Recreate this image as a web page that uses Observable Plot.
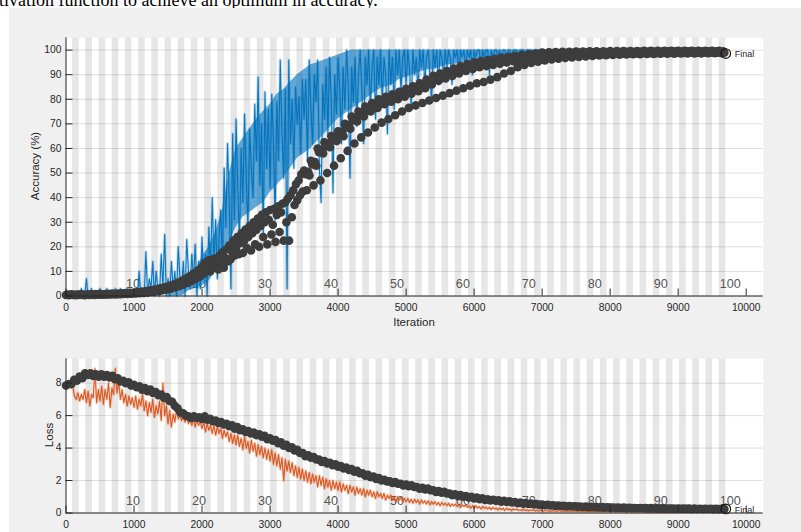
<!DOCTYPE html>
<html><head><meta charset="utf-8">
<script src="https://cdn.jsdelivr.net/npm/d3@7"></script>
<script src="https://cdn.jsdelivr.net/npm/@observablehq/plot@0.6"></script>
<style>
html,body{margin:0;padding:0;background:#fff;}
#fig{position:relative;width:801px;height:532px;overflow:hidden;font-family:"Liberation Sans",Arial,Helvetica,sans-serif;}
#caption{position:absolute;left:0;top:0;width:801px;height:8px;overflow:hidden;background:#fff;}
#caption span{position:absolute;left:-1px;top:-9px;font-family:"Liberation Serif","Times New Roman",serif;font-size:18px;line-height:18px;white-space:nowrap;color:#000;}
#panel{position:absolute;left:9px;top:8px;width:792px;height:524px;background:#f0f0f0;}
.chart{position:absolute;left:0;}
.lab{position:absolute;font-size:11.5px;color:#262626;white-space:nowrap;transform:translate(-50%,-50%);}
.rot{transform:translate(-50%,-50%) rotate(-90deg);}
</style></head>
<body>
<div id="fig">
  <div id="caption"><span>tivation function to achieve an optimum in accuracy.</span></div>
  <div id="panel"></div>
  <div id="top" class="chart" style="top:0"></div>
  <div id="bot" class="chart" style="top:340px"></div>
  <div class="lab rot" style="left:35px;top:166.4px">Accuracy (%)</div>
  <div class="lab" style="left:414px;top:322px">Iteration</div>
  <div class="lab rot" style="left:48.5px;top:435.4px">Loss</div>
</div>
<script>
// ---------- data ----------
const ITERS_PER_EPOCH = 97;
const finalIter = 9700;
const grayEpochs = [2,4,6,8,10,12,14,16,18,20,22,24,26,28,30,32,34,36,38,40,42,44,46,48,50,
  52,54,56,58,60,62,64,66,68,70,72,74,76,78,80,82,84,86,88,90,92,94,96,98,100];
const epochLabels = [10,20,30,40,50,60,70,80,90,100];
const xTicks = [0,1000,2000,3000,4000,5000,6000,7000,8000,9000,10000];
const accTicks = [0,10,20,30,40,50,60,70,80,90,100];
const lossTicks = [0,2,4,6,8];
const finalLabel = "Final";

// training accuracy, one value every 25 iterations (0..9700)
const trainStep = 25;
const trainAcc = [
0,0,0,0,0,0,0,0,0,3,0,0,7,0,0,3,0,0,0,0,3,0,0,0,3,0,0,0,0,3,0,0,3,0,0,0,3,0,0,0,
0,3,0,10,0,3,0,18,0,7,3,14,0,10,3,0,17,3,25,0,
7,0,14,3,10,0,20,7,3,14,0,23,10,3,17,7,21,0,14,3,
24,7,17,0,28,10,40,14,31,7,24,35,14,52,28,62,38,3,66,31,
72,45,20,60,38,74,48,28,68,52,40,78,55,89,45,70,24,83,52,76,
44,82,62,31,79,55,96,66,48,84,3,96,62,80,52,85,70,81,58,88,
72,88,55,96,76,62,90,79,96,52,38,86,72,93,66,97,80,42,90,74,
97,83,62,93,76,100,86,48,93,79,97,69,90,100,83,62,97,86,100,76,
93,100,72,97,86,100,79,97,90,66,100,86,97,76,100,90,100,83,97,100,
86,100,93,76,100,90,97,83,100,93,100,86,97,100,90,79,100,93,100,86,
100,97,90,100,93,100,97,86,100,97,100,90,100,97,100,93,100,97,100,90,
100,97,100,100,93,100,97,100,100,90,100,97,100,100,97,100,93,100,100,97,
100,100,97,100,100,100,97,100,100,100,97,100,100,100,100,97,100,100,100,100,
100,100,97,100,100,100,100,100,100,97,100,100,100,100,100,100,100,97,100,100,
100,100,100,100,100,100,100,100,100,100,
100,100,100,100,100,100,100,100,100,100,
100,100,100,100,100,100,100,100,100,100,
100,100,100,100,100,100,100,100,100,100,
100,100,100,100,100,100,100,100,100,100,
100,100,100,100,100,100,100,100,100,100,
100,100,100,100,100,100,100,100,100,100,
100,100,100,100,100,100,100,100,100,100,
100,100,100,100,100,100,100,100,100
];

// dense part of the training-accuracy trace: lower / upper edge every 100 iterations (1500..7000)
const accBandStart = 1500, accBandStep = 100;
const accBandLo = [0,0,0,2,3, 4,6,10,14,22,28,32,34,36,38, 42,45,48,52,56,58,60,63,66,69,
  72,74,76,78,80,82,84,85,86,88, 89,90,91,92,92,93,94,94,95,95, 96,96,97,97,97,98,98,98,99,99, 99];
const accBandHi = [3,4,6,8,10, 16,20,26,35,50,60,64,68,72,75, 78,82,84,87,90,92,94,95,96,97,
  98,99,100,100,100,100,100,100,100,100, 100,100,100,100,100,100,100,100,100,100,
  100,100,100,100,100,100,100,100,100,100, 100];

// training loss, one value every 25 iterations (0..9700)
const trainLoss = [
7.9,7.9,7.8,7.7,7.8,7.2,7.0,7.4,6.9,7.3,7.0,7.6,6.8,7.5,6.6,7.3,7.1,8.9,6.8,7.6,
6.9,7.8,6.7,7.6,7.0,8.0,6.5,7.7,7.3,8.9,7.4,8.1,7.0,7.6,6.8,7.3,6.6,7.2,6.7,7.1,
6.5,7.2,6.4,7.0,6.6,7.3,6.3,6.9,6.0,6.8,6.2,7.0,5.9,6.6,6.1,6.9,5.7,8.0,6.0,6.6,
5.5,6.3,5.3,6.1,5.6,6.4,5.8,6.0,5.7,6.0,5.6,5.9,5.5,5.8,5.4,5.8,5.3,5.7,5.4,5.6,
5.2,5.6,5.0,5.5,5.1,5.4,4.9,5.4,4.8,5.3,4.9,5.2,4.6,5.1,4.7,5.0,4.4,4.9,4.3,4.8,
4.2,4.8,4.1,4.6,3.9,4.7,4.0,4.4,3.7,4.5,3.8,4.3,3.5,4.2,3.6,4.1,3.4,4.0,3.3,3.9,
3.2,3.9,3.0,3.7,2.9,3.6,2.7,3.4,2.0,3.3,2.6,3.2,2.5,3.1,2.3,2.9,2.2,2.8,2.1,2.7,
2.0,2.6,1.9,2.5,1.8,2.4,1.9,2.3,1.6,2.3,1.7,2.2,1.5,2.1,1.6,2.0,1.4,2.0,1.5,1.9,
1.4,1.9,1.3,1.8,1.4,1.7,1.2,1.7,1.3,1.6,1.1,1.6,1.2,1.5,1.1,1.5,1.0,1.4,1.1,1.4,
1.0,1.3,0.9,1.3,1.0,1.2,0.9,1.2,0.8,1.1,0.9,1.1,0.8,1.0,0.7,1.0,0.8,0.95,0.7,0.9,
0.7,0.9,0.65,0.85,0.6,0.85,0.65,0.8,0.55,0.8,0.6,0.75,0.55,0.75,0.5,0.7,0.55,0.7,0.5,0.65,
0.45,0.65,0.5,0.6,0.45,0.6,0.4,0.55,0.45,0.55,0.4,0.5,0.35,0.5,0.4,0.5,0.35,0.45,0.3,0.45,
0.3,0.45,0.3,0.4,0.25,0.4,0.3,0.35,0.25,0.35,0.2,0.35,0.25,0.3,0.2,0.3,0.2,0.3,0.15,0.3,
0.2,0.25,0.15,0.25,0.2,0.25,0.15,0.2,0.15,0.25,0.15,0.2,0.12,0.2,0.15,0.2,0.12,0.18,0.1,0.18,
0.15,0.1,0.17,0.12,0.14,0.1,0.16,0.11,0.14,0.09,0.15,0.11,0.13,0.09,0.14,0.1,0.13,0.09,0.14,0.1,
0.12,0.08,0.13,0.09,0.12,0.08,0.13,0.09,0.11,0.08,0.12,0.08,0.11,0.07,0.12,0.08,0.11,0.07,0.11,0.08,
0.1,0.07,0.11,0.07,0.1,0.07,0.1,0.06,0.1,0.07,0.1,0.06,0.09,0.06,0.1,0.06,0.09,0.06,0.09,0.06,
0.09,0.06,0.09,0.05,0.09,0.06,0.08,0.05,0.09,0.05,0.08,0.05,0.08,0.05,0.08,0.05,0.08,0.05,0.08,0.05,
0.08,0.05,0.07,0.05,0.08,0.04,0.07,0.05,0.07,0.04,0.07,0.05,0.07,0.04,0.07,0.04,0.07,0.04,0.07,0.04,
0.07,0.04,0.06,0.04,0.07,0.04,0.06,0.04,0.06
];

// validation accuracy, one value every 20 iterations (0..9680)
const valAccStep = 20;
const valAcc = [
0.4,0.6,0.3,0.5,0.7,0.4,0.5,0.3,0.6,0.4,
0.5,0.7,0.4,0.6,0.3,0.5,0.6,0.4,0.7,0.5,
0.6,0.4,0.8,0.5,0.6,0.9,0.5,0.7,0.6,0.8,
0.5,0.9,0.7,0.6,1.0,0.7,0.8,0.6,1.0,0.8,
0.7,1.1,0.8,0.9,1.2,0.8,1.0,1.3,0.9,1.1,
1.4,1.0,1.2,1.6,1.1,1.4,1.8,1.2,1.6,2.0,
1.4,1.8,2.3,1.6,2.0,2.6,1.8,2.3,2.9,2.1,
3.2,2.4,2.8,3.6,2.7,3.3,4.1,3.0,3.8,4.7,
3.5,4.4,5.4,4.0,5.1,6.2,4.6,5.8,7.1,5.3,
6.6,8.1,6.0,7.5,9.2,6.9,8.6,10.5,7.8,9.8,
11.8,9.0,13.5,10.5,12.5,14.5,10.0,13.0,11.5,15.2,
12.0,14.8,10.8,16.5,13.0,17.8,11.5,15.5,19.0,14.0,
20.5,15.0,18.0,22.5,16.5,
19.5,24.0,17.0,21.5,25.5,
17.5,22.5,27.0,19.5,24.0,
28.5,18.5,25.5,30.0,21.0,
27.0,31.5,20.0,28.5,33.0,
24.0,30.0,34.0,21.0,31.0,
35.0,25.0,29.0,35.5,22.0,
33.0,36.5,26.0,34.0,37.5,
22.5,38.0,30.0,39.5,22.5,
41.0,32.0,43.0,37.0,45.5,39.0,47.0,41.0,49.5,42.5,
51,49.5,43,50.5,49,
55,53.5,45,54.5,53,
60,58.5,47,59.5,58,
62.5,61,50,62,60.5,
65,63.5,53,64.5,63,
67,65.5,56,66.5,65,
70,68.5,59,69.5,68,
73,71.5,62,72.5,71,
75,73.5,64.5,74.5,73,
77,75.5,66.5,76.5,75,
78.5,77,68.5,78,76.5,
80,78.5,70.5,79.5,78,
81,79.5,72,80.5,79,
82,80.5,73.5,81.5,80,
83,81.5,75,82.5,81,
84.3,82.8,76.5,83.8,82.3,
85.3,83.8,77.5,84.8,83.3,
86.5,85,78.5,86,84.5,
88,86.5,79.5,87.5,86,
89.5,88,80.5,89,87.5,
90.5,89,81.5,90,88.5,
91.5,90,82.5,91,89.5,
92.5,91,83.5,92,90.5,
93.5,92,84.5,93,91.5,
94.3,92.8,85.5,93.8,92.3,
95,93.5,86.5,94.5,93,
95.5,94,87,95,93.5,
96,94.5,88,95.5,94,
96.5,95,89,96,94.5,
97,95.5,90.5,96.5,95,
97.3,96,91.5,97,95.5,
97.7,96.5,93,97.2,96,
98,97,94,97.5,96.5,
98.3,97.3,94.8,97.8,96.8,
98.6,97.6,95.3,98.1,97.1,
99,98,95.8,98.5,97.5,
99.1,98.2,96.2,98.6,97.6,
99.2,98.3,96.5,98.7,97.7,
99.3,98.4,96.8,98.8,97.8,
99.3,98.5,97,98.9,97.9,
99.4,98.6,97.2,99,98,
99.4,98.7,97.4,99,98.1,
99.5,98.8,97.6,99.1,98.2,
99.5,98.8,97.8,99.1,98.3,
99.5,98.9,97.9,99.2,98.4,
99.6,98.9,98,99.2,98.5,
99.6,99,98.1,99.3,98.5,
99.6,99,98.2,99.3,98.6,
99.6,99,98.3,99.3,98.6,
99.6,99.1,98.3,99.4,98.7,
99.7,99.1,98.4,99.4,98.7,
99.7,99.1,98.4,99.4,98.7,
99.7,99.2,98.5,99.4,98.8,
99.7,99.2,98.5,99.5,98.8,
99.7,99.2,98.5,99.5,98.8,
99.7,99.2,98.6,99.5,98.8,
99.7,99.3,98.6,99.5,98.9,
99.7,99.3,98.6,99.5,98.9,
99.7,99.3,98.6,99.5,98.9,
99.7,99.3,98.7,99.5,98.9,
99.7,99.3,98.7,99.5,98.9,
99.7,99.3,98.7,99.5,98.9
];
const finalValAcc = 98.6;

// validation loss, one value every 40 iterations (0..9680)
const valLossStep = 40;
const valLoss = [
7.85,7.95,7.95,8.2,8.15,8.4,8.3,8.6,8.5,8.6,
8.45,8.55,8.4,8.55,8.4,8.5,8.35,8.45,8.25,8.3,
8.1,8.15,8.0,8.05,7.85,7.9,7.75,7.8,7.6,7.7,
7.5,7.6,7.4,7.45,7.25,7.3,7.1,7.15,6.9,6.85,
6.6,6.45,6.2,6.15,6.0,5.95,5.85,5.95,5.85,5.9,
5.8,5.95,5.75,5.8,5.65,5.7,5.55,5.6,5.45,5.5,
5.35,5.4,5.2,5.3,5.1,5.15,5.0,5.05,4.9,4.95,
4.8,4.85,4.7,4.75,4.55,4.6,4.45,4.5,4.3,4.35,
4.15,4.2,4.0,4.05,3.85,3.9,3.7,3.7,3.5,3.55,
3.4,3.45,3.3,3.3,3.15,3.2,3.05,3.1,2.95,3.0,
2.85,2.9,2.75,2.8,2.65,2.7,2.55,2.6,2.45,2.45,
2.3,2.35,2.2,2.25,2.1,2.15,2.0,2.05,1.95,1.95,
1.85,1.9,1.8,1.8,1.7,1.75,1.65,1.7,1.6,1.6,
1.5,1.55,1.45,1.5,1.4,1.4,1.3,1.35,1.25,1.3,
1.2,1.2,1.1,1.15,1.05,1.1,1.0,1.05,0.95,1.0,
0.9,0.95,0.85,0.9,0.8,0.85,0.78,0.82,0.75,0.78,
0.7,0.75,0.68,0.72,0.65,0.68,0.6,0.65,0.58,0.62,
0.55,0.58,0.52,0.55,0.5,0.52,0.48,0.5,0.46,0.48,
0.44,0.46,0.43,0.44,0.41,0.43,0.4,0.42,0.39,0.4,
0.37,0.39,0.36,0.38,0.35,0.37,0.34,0.36,0.33,0.35,
0.33,0.34,0.32,0.33,0.31,0.33,0.3,0.32,0.3,0.31,
0.29,0.31,0.29,0.3,0.28,0.3,0.28,0.29,0.27,0.29,
0.27,0.28,0.27,0.28,0.26,0.28,0.26,0.27,0.26,0.27,
0.25,0.27,0.25,0.26,0.25,0.26,0.25,0.26,0.24,0.26,
0.24,0.25,0.24
];
const finalValLoss = 0.25;

// ---------- tables ----------
const toRows = (vals, step) => vals.map((v, i) => ({iter: i * step, v}));
const trainAccRows = toRows(trainAcc, trainStep);
const trainLossRows = toRows(trainLoss, trainStep);
const valAccRows = toRows(valAcc, valAccStep);
const valLossRows = toRows(valLoss, valLossStep);
const accBandRows = accBandLo.map((lo, i) => ({iter: accBandStart + i * accBandStep, lo, hi: accBandHi[i]}));

// ---------- layout ----------
const W = 801, ML = 65.5, MR = 38.3;
const innerW = W - ML - MR;
const xDomain = [0, 10250];
const FONT = '"Liberation Sans", Arial, Helvetica, sans-serif';
const AX = "#262626";

function panel({height, mt, mb, yDomain, yTicks, trainRows, trainColor, bandRows, valRows, finalV}) {
  const innerH = height - mt - mb;
  const finalRow = [{iter: finalIter, v: finalV}];
  return Plot.plot({
    width: W, height,
    marginLeft: ML, marginRight: MR, marginTop: mt, marginBottom: mb,
    style: {background: "transparent", overflow: "visible", color: AX, fontFamily: FONT},
    x: {domain: xDomain},
    y: {domain: yDomain},
    marks: [
      Plot.frame({fill: "white", stroke: "none"}),
      Plot.rect(grayEpochs, {x1: e => (e - 1) * ITERS_PER_EPOCH, x2: e => e * ITERS_PER_EPOCH, fill: "#e6e6e6"}),
      Plot.gridY(yTicks, {stroke: AX, strokeOpacity: 0.15}),
      Plot.text(epochLabels, {x: e => e * ITERS_PER_EPOCH, text: e => String(e), frameAnchor: "bottom",
        lineAnchor: "middle", dx: -6, dy: -12.5, textAnchor: "start", fontSize: 12.6, fill: "#555"}),
      bandRows ? Plot.areaY(bandRows, {x: "iter", y1: "lo", y2: "hi", fill: trainColor, fillOpacity: 0.62, curve: "linear"}) : null,
      Plot.line(trainRows, {x: "iter", y: "v", stroke: trainColor, strokeWidth: 3, strokeOpacity: 0.22}),
      Plot.line(trainRows, {x: "iter", y: "v", stroke: trainColor, strokeWidth: 1.1, strokeOpacity: 0.95}),
      Plot.dot(valRows, {x: "iter", y: "v", r: 4.3, fill: "#3d3d3d"}),
      Plot.dot(finalRow, {x: "iter", y: "v", r: 4.8, stroke: "#111", fill: "none", strokeWidth: 1.2}),
      Plot.text(finalRow, {x: "iter", y: "v", text: () => finalLabel, dx: 9, dy: 1, textAnchor: "start", fontSize: 9, fill: AX}),
      Plot.ruleX([0], {stroke: AX}),
      Plot.ruleY([yDomain[0]], {stroke: AX}),
      Plot.ruleX(xTicks, {insetTop: innerH - 7, stroke: AX}),
      Plot.ruleY(yTicks, {insetRight: innerW - 7, stroke: AX}),
      Plot.axisX({ticks: xTicks, tickSize: 0, tickPadding: 7.5, tickFormat: d3.format("d"), fontSize: 10.3, label: null}),
      Plot.axisY({ticks: yTicks, tickSize: 0, tickPadding: 4.5, tickFormat: d3.format("d"), fontSize: 10.3, label: null})
    ]
  });
}

document.getElementById("top").append(panel({
  height: 340, mt: 37.3, mb: 44.5, yDomain: [0, 105], yTicks: accTicks,
  trainRows: trainAccRows, trainColor: "#0072BD", bandRows: accBandRows, valRows: valAccRows, finalV: finalValAcc
}));
document.getElementById("bot").append(panel({
  height: 192, mt: 18.3, mb: 19.5, yDomain: [0, 9.5], yTicks: lossTicks,
  trainRows: trainLossRows, trainColor: "#D95319", bandRows: null, valRows: valLossRows, finalV: finalValLoss
}));
</script>
</body></html>
